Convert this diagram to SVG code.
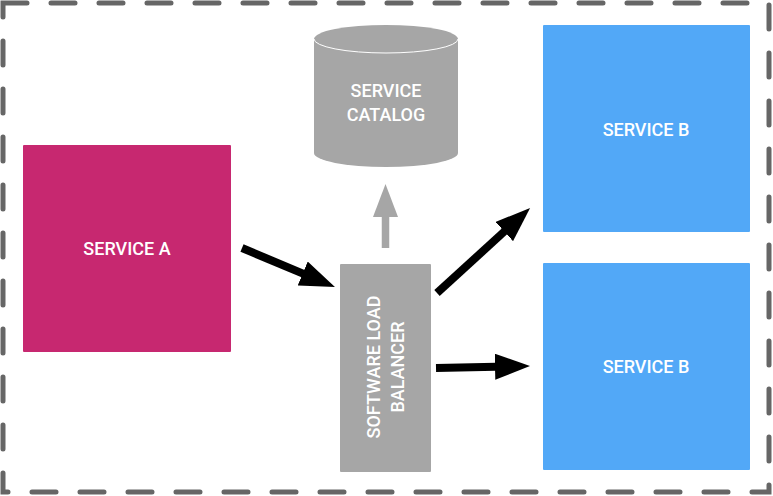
<svg xmlns="http://www.w3.org/2000/svg" width="773" height="496" viewBox="0 0 773 496">
<style>
.lbl{font-family:Roboto,"Liberation Sans",Arial,sans-serif;font-weight:500;font-size:18px;fill:#fff;text-anchor:middle;dominant-baseline:central}
.gray{fill:#A6A6A6}
.blue{fill:#52A8F7}
.arr{stroke:#000;stroke-width:8;fill:none}
.garr{stroke:#A6A6A6;stroke-width:7.5;fill:none}
</style>
<defs>
<marker id="head" markerUnits="userSpaceOnUse" markerWidth="36" markerHeight="26" refX="1" refY="13" orient="auto">
<path d="M0,0 L35,13 L0,26 Z" fill="#000"/>
</marker>
<marker id="ghead" markerUnits="userSpaceOnUse" markerWidth="34" markerHeight="25" refX="1" refY="12.5" orient="auto">
<path d="M0,0 L33,12.5 L0,25 Z" fill="#A6A6A6"/>
</marker>
</defs>
<rect x="3" y="3" width="766" height="489" fill="none" stroke="#666" stroke-width="5" stroke-linecap="round" stroke-dasharray="24 24"/>
<g id="service-a">
<rect x="23" y="145" width="208" height="207" rx="1" fill="#C72870"/>
<text class="lbl" x="127" y="248">SERVICE A</text>
</g>
<g id="service-catalog">
<path class="gray" d="M314,39 L314,153 A72,14 0 0 0 458,153 L458,39 A72,14 0 0 0 314,39 Z"/>
<path d="M314,39 A72,14 0 0 0 458,39" fill="none" stroke="#fff" stroke-width="1"/>
<text class="lbl" x="386" y="90">SERVICE</text>
<text class="lbl" x="386" y="114">CATALOG</text>
</g>
<g id="load-balancer">
<rect class="gray" x="340" y="264" width="91" height="208" rx="1"/>
<text class="lbl" transform="translate(373,367) rotate(-90)">SOFTWARE LOAD</text>
<text class="lbl" transform="translate(397,367) rotate(-90)">BALANCER</text>
</g>
<g id="service-b-1">
<rect class="blue" x="543" y="25" width="207" height="207" rx="1"/>
<text class="lbl" x="646" y="129">SERVICE B</text>
</g>
<g id="service-b-2">
<rect class="blue" x="543" y="263" width="207" height="207" rx="1"/>
<text class="lbl" x="646" y="366">SERVICE B</text>
</g>
<g id="connectors">
<line class="garr" x1="385.5" y1="248" x2="385.5" y2="216" marker-end="url(#ghead)"/>
<line class="arr" x1="242" y1="248" x2="303.6" y2="273.9" marker-end="url(#head)"/>
<line class="arr" x1="437" y1="293" x2="505" y2="230.9" marker-end="url(#head)"/>
<line class="arr" x1="436" y1="368" x2="496" y2="366.7" marker-end="url(#head)"/>
</g>
</svg>
